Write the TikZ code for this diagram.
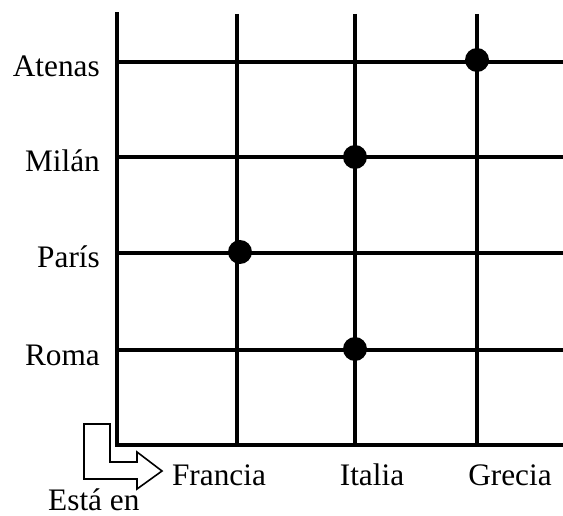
\documentclass[tikz,border=0pt]{standalone}
\usepackage{fontspec}
\setmainfont{Liberation Serif}
\begin{document}
\begin{tikzpicture}[x=1pt,y=-1pt,
  gridline/.style={line width=3.8pt},
  dot/.style={circle,fill=black,inner sep=0pt,minimum size=24pt},
  lbl/.style={font=\fontsize{31.3}{35}\selectfont,inner sep=0pt},
  blockarrow/.style={line width=1.6pt,line join=miter}]
\useasboundingbox (0,0) rectangle (563,516);
% axes
\coordinate (o) at (117,445);
\coordinate (top) at (117,14);
\coordinate (right) at (563,445);
\draw[gridline,line cap=rect] (top) -- (o) -- (right);
% vertical lines
\foreach \n/\x in {fr/237,it/355,gr/477}{
  \coordinate (\n t) at (\x,14);
  \coordinate (\n b) at (\x,445);
  \draw[gridline] (\n t) -- (\n b);
}
% horizontal lines
\foreach \n/\y in {at/62,mi/157,pa/253,ro/350}{
  \coordinate (\n l) at (117,\y);
  \coordinate (\n r) at (563,\y);
  \draw[gridline] (\n l) -- (\n r);
}
% dots
\node[dot] (d1) at (477,60) {};
\node[dot] (d2) at (355,157) {};
\node[dot] (d3) at (240,252) {};
\node[dot] (d4) at (355,349) {};
% left labels
\node[lbl,anchor=base east] (latenas) at (100,77) {Atenas};
\node[lbl,anchor=base east] (lmilan) at (100,172) {Milán};
\node[lbl,anchor=base east] (lparis) at (100,268) {París};
\node[lbl,anchor=base east] (lroma) at (100,365) {Roma};
% bottom labels
\node[lbl,anchor=base] (bfr) at (219,485) {Francia};
\node[lbl,anchor=base] (bit) at (372,485) {Italia};
\node[lbl,anchor=base] (bgr) at (510,485) {Grecia};
% block arrow
\draw[blockarrow] (84,424) -- (110,424) -- (110,462) -- (137,462) -- (137,452)
  -- (162,471) -- (137,489) -- (137,479) -- (84,479) -- cycle;
\node[lbl,anchor=base west] (esta) at (48,510) {Está en};
\end{tikzpicture}
\end{document}
